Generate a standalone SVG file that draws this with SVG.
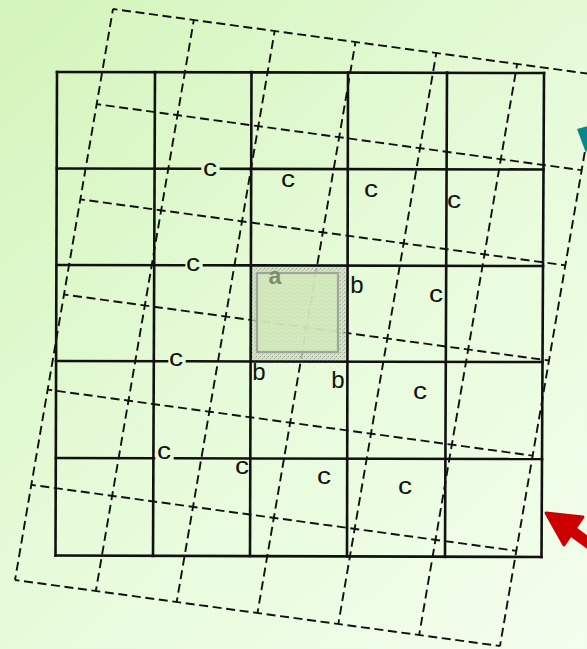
<svg xmlns="http://www.w3.org/2000/svg" width="587" height="649" viewBox="0 0 587 649">
  <defs>
    <linearGradient id="bg" x1="0" y1="0" x2="587" y2="649" gradientUnits="userSpaceOnUse">
      <stop offset="0" stop-color="#d3f4ba"/>
      <stop offset="0.5" stop-color="#e6fbd9"/>
      <stop offset="1" stop-color="#f3feee"/>
    </linearGradient>
    <pattern id="stipple" width="4" height="4" patternUnits="userSpaceOnUse">
      <rect width="4" height="4" fill="#cfdcc0"/>
      <rect x="0" y="0" width="1" height="1" fill="#7e8a78"/>
      <rect x="2" y="2" width="1" height="1" fill="#9aa594"/>
      <rect x="3" y="1" width="1" height="1" fill="#b3bcaa"/>
    </pattern>
    <style>
      .solid { stroke: #111; stroke-width: 2.6; fill: none; stroke-linecap: square; }
      .dh { stroke: #111; stroke-width: 1.9; stroke-dasharray: 9 4.6; stroke-dashoffset: 4.5; fill: none; }
      .dv { stroke: #111; stroke-width: 1.9; stroke-dasharray: 9 4.79; stroke-dashoffset: 4.5; fill: none; }
      .lbl { font-family: "Liberation Sans", Arial, sans-serif; font-size: 24px; fill: #111; text-anchor: middle; }
      .lbla { font-family: "Liberation Sans", Arial, sans-serif; font-size: 23px; font-weight: bold; fill: #7d8b6e; text-anchor: middle; }
    </style>
  </defs>

  <rect id="background" x="0" y="0" width="587" height="649" fill="url(#bg)"/>

  <g id="dashed-grid">
    <line class="dh" x1="113" y1="9" x2="598" y2="75"/>
    <line class="dh" x1="96.67" y1="104.17" x2="581.67" y2="170.17"/>
    <line class="dh" x1="80.33" y1="199.33" x2="565.33" y2="265.33"/>
    <line class="dh" x1="64" y1="294.5" x2="549" y2="360.5"/>
    <line class="dh" x1="47.67" y1="389.67" x2="532.67" y2="455.67"/>
    <line class="dh" x1="31.33" y1="484.83" x2="516.33" y2="550.83"/>
    <line class="dh" x1="15" y1="580" x2="500" y2="646"/>
    <line class="dv" x1="113" y1="9" x2="15" y2="580"/>
    <line class="dv" x1="193.83" y1="20" x2="95.83" y2="591"/>
    <line class="dv" x1="274.67" y1="31" x2="176.67" y2="602"/>
    <line class="dv" x1="355.5" y1="42" x2="257.5" y2="613"/>
    <line class="dv" x1="436.33" y1="53" x2="338.33" y2="624"/>
    <line class="dv" x1="517.17" y1="64" x2="419.17" y2="635"/>
    <line class="dv" x1="598" y1="75" x2="500" y2="646"/>
  </g>

  <g id="highlight-cell">
    <rect x="251" y="265" width="97" height="96" fill="url(#stipple)" opacity="0.8"/>
    <rect x="257" y="273" width="81" height="79" fill="#d3ecba" fill-opacity="0.78" stroke="#9ea59c" stroke-width="2.2"/>
  </g>

  <g id="solid-grid">
    <line class="solid" x1="57" y1="72" x2="55.5" y2="555.5"/>
    <line class="solid" x1="155" y1="72" x2="153" y2="556"/>
    <line class="solid" x1="251.5" y1="72" x2="250" y2="556"/>
    <line class="solid" x1="348" y1="72.5" x2="347" y2="556.5"/>
    <line class="solid" x1="447" y1="72.5" x2="445" y2="557"/>
    <line class="solid" x1="544" y1="73" x2="541.5" y2="557"/>
    <line class="solid" x1="57" y1="72" x2="544" y2="73"/>
    <line class="solid" x1="57" y1="168.5" x2="200" y2="168.8"/>
    <line class="solid" x1="221" y1="168.8" x2="543.5" y2="169.5"/>
    <line class="solid" x1="56.5" y1="265" x2="184" y2="265.3"/>
    <line class="solid" x1="204" y1="265.3" x2="543" y2="266"/>
    <line class="solid" x1="56" y1="361" x2="167" y2="361.2"/>
    <line class="solid" x1="187" y1="361.3" x2="542.5" y2="362"/>
    <line class="solid" x1="56" y1="458" x2="154" y2="458.2"/>
    <line class="solid" x1="175" y1="458.3" x2="542" y2="459"/>
    <line class="solid" x1="55.5" y1="555.5" x2="541.5" y2="557"/>
  </g>

  <g id="labels">
    <text class="lbl" x="210" y="176" textLength="14" lengthAdjust="spacingAndGlyphs">c</text>
    <text class="lbl" x="288" y="187" textLength="14" lengthAdjust="spacingAndGlyphs">c</text>
    <text class="lbl" x="371" y="197" textLength="14" lengthAdjust="spacingAndGlyphs">c</text>
    <text class="lbl" x="454" y="208" textLength="14" lengthAdjust="spacingAndGlyphs">c</text>
    <text class="lbl" x="193" y="271" textLength="14" lengthAdjust="spacingAndGlyphs">c</text>
    <text class="lbla" x="275" y="284">a</text>
    <text class="lbl" x="357" y="293">b</text>
    <text class="lbl" x="436" y="302" textLength="14" lengthAdjust="spacingAndGlyphs">c</text>
    <text class="lbl" x="176" y="366" textLength="14" lengthAdjust="spacingAndGlyphs">c</text>
    <text class="lbl" x="259" y="380">b</text>
    <text class="lbl" x="338" y="388">b</text>
    <text class="lbl" x="420" y="399" textLength="14" lengthAdjust="spacingAndGlyphs">c</text>
    <text class="lbl" x="164" y="459" textLength="14" lengthAdjust="spacingAndGlyphs">c</text>
    <text class="lbl" x="242" y="474" textLength="14" lengthAdjust="spacingAndGlyphs">c</text>
    <text class="lbl" x="324" y="484" textLength="14" lengthAdjust="spacingAndGlyphs">c</text>
    <text class="lbl" x="405" y="494" textLength="14" lengthAdjust="spacingAndGlyphs">c</text>
  </g>

  <g id="connectors">
    <polygon id="teal-arrow" points="577,129 595,124 586,153" fill="#0a8787"/>
    <g id="red-arrow" fill="#cc0000" stroke="#cc0000">
      <line x1="572" y1="531" x2="602" y2="553" stroke-width="11" stroke-linecap="round"/>
      <polygon points="546,513 583,517 564,545" stroke-width="3" stroke-linejoin="round"/>
    </g>
  </g>
</svg>
